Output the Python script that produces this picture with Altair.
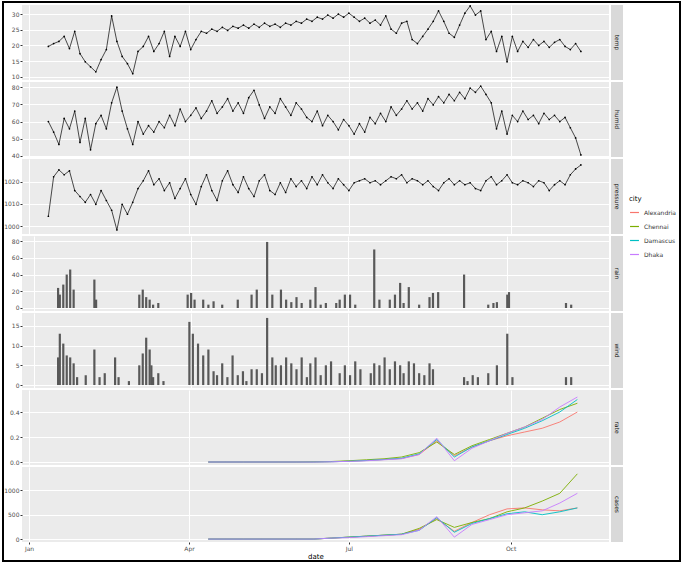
import altair as alt
import pandas as pd

# ---------------- data ----------------
line_start = "2020-01-12"          # weather series, one value every 3 days
temp = [19.7, 20.6, 21.3, 22.9, 19.0, 24.5, 17.4, 14.8, 13.2, 11.6,
        15.5, 18.7, 29.4, 21.3, 16.5, 14.2, 11.0, 18.1, 19.7, 22.9,
        18.1, 20.6, 24.5, 16.5, 22.9, 19.7, 24.5, 18.7, 21.9, 24.5,
        23.9, 25.2, 24.5, 25.8, 24.8, 26.1, 25.5, 26.5, 25.5, 26.8,
        25.8, 27.1, 26.1, 26.8, 25.8, 27.1, 26.5, 27.7, 27.1, 28.4,
        27.7, 29.0, 28.4, 29.7, 28.7, 30.0, 29.0, 30.3, 29.0, 27.7,
        28.7, 27.1, 28.1, 26.5, 29.4, 25.2, 23.9, 27.1, 27.7, 21.9,
        20.6, 22.9, 25.2, 27.7, 31.0, 27.7, 23.9, 22.6, 26.5, 30.3,
        32.6, 29.7, 31.0, 21.9, 24.5, 18.1, 22.9, 14.8, 22.9, 18.1,
        21.3, 19.4, 21.9, 20.0, 21.3, 19.4, 21.0, 21.9, 19.7, 18.7,
        20.6, 18.1]
humid = [60.0, 53.9, 46.7, 61.8, 55.8, 66.1, 47.9, 61.8, 43.6, 58.8,
         63.6, 55.8, 70.9, 80.0, 66.1, 55.8, 46.7, 60.0, 52.7, 57.6,
         53.9, 60.0, 56.4, 63.6, 57.6, 67.3, 60.0, 63.6, 67.9, 61.8,
         66.1, 72.1, 64.8, 68.5, 73.3, 66.1, 70.9, 64.8, 73.9, 78.2,
         69.7, 61.8, 68.5, 64.8, 73.3, 68.5, 63.6, 70.9, 67.3, 62.4,
         60.0, 66.1, 57.6, 63.6, 60.0, 55.2, 61.2, 57.6, 52.7, 58.8,
         53.9, 62.4, 58.8, 64.8, 60.0, 68.5, 63.6, 67.3, 72.1, 67.3,
         70.9, 66.1, 73.3, 69.7, 74.5, 70.9, 75.8, 72.1, 77.0, 73.3,
         79.4, 77.0, 80.6, 75.8, 70.9, 55.8, 66.1, 52.7, 63.6, 60.0,
         66.1, 61.2, 63.6, 58.8, 64.8, 61.2, 63.6, 60.0, 62.4, 56.4,
         50.5, 40.6]
press = [1004.4, 1022.2, 1025.3, 1023.1, 1024.9, 1016.0, 1013.3, 1010.7, 1014.2, 1009.8,
         1016.0, 1011.5, 1007.1, 998.2, 1009.8, 1005.3, 1010.7, 1016.9, 1020.4, 1024.9,
         1018.6, 1021.3, 1016.0, 1019.5, 1012.4, 1016.9, 1021.3, 1014.2, 1009.8, 1017.8,
         1023.1, 1016.0, 1011.5, 1020.4, 1024.9, 1018.6, 1015.1, 1022.2, 1016.9, 1013.3,
         1020.4, 1023.1, 1016.0, 1014.2, 1019.5, 1015.1, 1021.3, 1017.8, 1020.4, 1016.9,
         1022.2, 1018.6, 1023.1, 1019.5, 1016.9, 1021.3, 1018.6, 1016.0, 1019.5, 1020.4,
         1021.3, 1019.5, 1020.4, 1018.6, 1020.4, 1022.2, 1021.3, 1023.1, 1019.5, 1021.3,
         1020.4, 1018.6, 1020.4, 1017.8, 1016.0, 1019.5, 1021.3, 1018.6, 1020.4, 1018.6,
         1019.5, 1016.9, 1016.0, 1020.4, 1022.2, 1018.6, 1020.4, 1023.1, 1019.5, 1018.6,
         1020.4, 1019.5, 1017.8, 1020.4, 1019.5, 1016.0, 1018.6, 1020.4, 1018.6, 1023.1,
         1025.7, 1027.5]

# bar series: day of year (0 = 1 Jan 2020) and value
rain_days = [14, 15, 17, 19, 21, 23, 35, 36, 61, 63, 65, 67, 69, 72, 89, 91, 93, 98, 101, 104,
             109, 118, 126, 129, 135, 138, 143, 146, 149, 152, 155, 160, 163, 166, 169, 175, 177,
             180, 183, 186, 197, 200, 206, 209, 212, 214, 217, 223, 229, 231, 234, 249, 263, 266,
             268, 274, 275, 308, 311]
rain_vals = [24, 16, 28, 40, 46, 22, 34, 10, 16, 22, 13, 10, 4, 6, 16, 18, 10, 10, 4, 8,
             4, 10, 16, 22, 79, 16, 22, 10, 7, 13, 6, 10, 25, 4, 6, 6, 10,
             16, 16, 4, 70, 10, 10, 16, 30, 6, 25, 4, 13, 18, 19, 40, 4, 6,
             7, 16, 19, 6, 4]
wind_days = [14, 15, 17, 19, 21, 23, 25, 30, 35, 38, 41, 47, 49, 55, 61, 63, 65, 67, 68, 69,
             72, 75, 90, 92, 95, 98, 101, 104, 106, 109, 112, 115, 118, 121, 123, 126, 129, 132,
             135, 138, 140, 143, 146, 149, 152, 155, 158, 160, 163, 166, 169, 172, 177, 180, 183,
             186, 189, 195, 197, 200, 203, 206, 209, 212, 214, 217, 220, 223, 226, 229, 231, 249,
             251, 254, 257, 263, 268, 274, 277, 308, 311]
wind_vals = [7, 13, 10.5, 7.5, 7, 5.5, 2, 2.5, 9, 2, 3, 7, 2, 1, 5, 8, 12, 9, 5, 2,
             3, 1, 16, 13, 10.5, 7.5, 9, 3.5, 2.5, 5.5, 2, 7.5, 2.5, 3.5, 1, 4, 4, 3,
             17, 7, 5, 5, 7, 5.5, 4, 7, 2, 5.5, 7, 2.5, 5, 6, 3, 5, 2.5,
             6, 4, 3, 5.5, 5, 7, 4, 6, 5, 3, 6, 5.5, 3, 2.5, 5.5, 4, 2,
             1, 2.5, 2, 3, 5, 13, 2, 2, 2]

# city series, one value every 10 days from 12 Apr 2020
city_start = "2020-04-12"
cities = ["Alexandria", "Chennai", "Damascus", "Dhaka"]
city_colors = ["#F8766D", "#7CAE00", "#00BFC4", "#C77CFF"]
rate = {
    "Alexandria": [0, 0, 0, 0, 0, 0, 0, 0.002, 0.006, 0.012, 0.02, 0.028, 0.06, 0.17, 0.05, 0.12, 0.17, 0.21, 0.24, 0.27, 0.32, 0.40],
    "Chennai":    [0, 0, 0, 0, 0, 0, 0.002, 0.004, 0.01, 0.018, 0.026, 0.04, 0.075, 0.16, 0.06, 0.13, 0.18, 0.23, 0.28, 0.35, 0.42, 0.47],
    "Damascus":   [0, 0, 0, 0, 0, 0, 0, 0.002, 0.006, 0.012, 0.02, 0.03, 0.065, 0.18, 0.04, 0.12, 0.17, 0.22, 0.27, 0.33, 0.40, 0.50],
    "Dhaka":      [0, 0, 0, 0, 0, 0, 0, 0.002, 0.005, 0.01, 0.018, 0.026, 0.06, 0.19, 0.01, 0.11, 0.17, 0.23, 0.28, 0.34, 0.44, 0.52],
}
cases = {
    "Alexandria": [0, 0, 0, 0, 0, 0, 0, 20, 40, 60, 80, 100, 200, 420, 160, 340, 500, 620, 640, 600, 580, 640],
    "Chennai":    [0, 0, 0, 0, 0, 0, 0, 20, 40, 60, 80, 100, 220, 400, 240, 340, 420, 560, 640, 780, 940, 1340],
    "Damascus":   [0, 0, 0, 0, 0, 0, 0, 20, 40, 60, 80, 100, 180, 440, 140, 320, 420, 520, 560, 500, 560, 640],
    "Dhaka":      [0, 0, 0, 0, 0, 0, 0, 20, 30, 50, 70, 90, 180, 460, 40, 300, 400, 500, 540, 580, 740, 940],
}

strip_labels = ["temp", "humid", "pressure", "rain", "wind", "rate", "cases"]

# ---------------- tables ----------------
def fmt(d):
    return [x.strftime("%Y-%m-%d") for x in d]

line_dates = fmt(pd.date_range(line_start, periods=len(temp), freq="3D"))
jan1 = pd.Timestamp("2020-01-01")
df_temp = pd.DataFrame({"date": line_dates, "value": temp})
df_humid = pd.DataFrame({"date": line_dates, "value": humid})
df_press = pd.DataFrame({"date": line_dates, "value": press})
df_rain = pd.DataFrame({"date": fmt(jan1 + pd.to_timedelta(rain_days, unit="D")), "value": rain_vals})
df_wind = pd.DataFrame({"date": fmt(jan1 + pd.to_timedelta(wind_days, unit="D")), "value": wind_vals})
city_dates = fmt(pd.date_range(city_start, periods=22, freq="10D"))
df_rate = pd.DataFrame([{"date": d, "city": c, "value": v}
                        for c in cities for d, v in zip(city_dates, rate[c])])
df_cases = pd.DataFrame([{"date": d, "city": c, "value": v}
                         for c in cities for d, v in zip(city_dates, cases[c])])

# ---------------- layout ----------------
W, H = 587, 75
x_dom = [alt.DateTime(year=2019, month=12, date=28, utc=True),
         alt.DateTime(year=2020, month=11, date=26, utc=True)]
x_ticks = [alt.DateTime(year=2020, month=m, date=1, utc=True) for m in (1, 4, 7, 10)]


def xenc(bottom):
    if bottom:
        ax = alt.Axis(values=x_ticks, format="%b", title="date", labelFontSize=6,
                      titleFontSize=7, titleFontWeight="normal", tickSize=2,
                      labelPadding=1, titlePadding=1, domain=False,
                      labelColor="#4D4D4D", tickColor="#333333")
    else:
        ax = alt.Axis(values=x_ticks, labels=False, ticks=False, title=None, domain=False)
    return alt.X("date:T", scale=alt.Scale(type="utc", domain=x_dom), axis=ax)


def yenc(dom, ticks, fmt_=None):
    kw = dict(values=ticks, title=None, labelFontSize=6, tickSize=2, domain=False,
              labelColor="#4D4D4D", tickColor="#333333", minExtent=18, maxExtent=18,
              labelPadding=1)
    if fmt_:
        kw["format"] = fmt_
    return alt.Y("value:Q", scale=alt.Scale(domain=dom, nice=False, zero=False),
                 axis=alt.Axis(**kw))


def strip(label):
    d = pd.DataFrame({"label": [label]})
    r = alt.Chart(d).mark_rect(color="#D9D9D9").encode(
        x=alt.value(W + 2), x2=alt.value(W + 14), y=alt.value(0), y2=alt.value(H))
    t = alt.Chart(d).mark_text(angle=90, fontSize=6, color="#1A1A1A").encode(
        x=alt.value(W + 8), y=alt.value(H / 2), text="label:N")
    return r + t


def frame():
    # outer black border of the picture
    d = pd.DataFrame({"k": [0]})
    return alt.Chart(d).mark_rect(filled=False, stroke="black", strokeWidth=2).encode(
        x=alt.value(-19), x2=alt.value(658), y=alt.value(-3), y2=alt.value(556))


def line_panel(df, dom, ticks, label, extra=None):
    base = alt.Chart(df)
    ln = base.mark_line(color="black", strokeWidth=0.7).encode(x=xenc(False), y=yenc(dom, ticks))
    pt = base.mark_circle(color="black", size=3, opacity=1).encode(x=xenc(False), y=yenc(dom, ticks))
    layers = [ln, pt, strip(label)]
    if extra is not None:
        layers.append(extra)
    return alt.layer(*layers).properties(width=W, height=H)


def bar_panel(df, dom, ticks, label):
    b = alt.Chart(df).mark_bar(color="#595959", size=2.2).encode(
        x=xenc(False), y=yenc(dom, ticks), y2=alt.datum(0))
    return alt.layer(b, strip(label)).properties(width=W, height=H)


legend = alt.Legend(title="city", orient="none", legendX=607, legendY=190,
                    symbolType="stroke", symbolStrokeWidth=1.2, symbolSize=80,
                    labelFontSize=6, titleFontSize=7, titleFontWeight="normal",
                    labelColor="#333333", rowPadding=5)


def city_panel(df, dom, ticks, label, bottom, fmt_=None):
    ln = alt.Chart(df).mark_line(strokeWidth=0.9).encode(
        x=xenc(bottom), y=yenc(dom, ticks, fmt_),
        color=alt.Color("city:N", scale=alt.Scale(domain=cities, range=city_colors),
                        legend=legend))
    return alt.layer(ln, strip(label)).properties(width=W, height=H)


p1 = line_panel(df_temp, [9.0, 32.9], [10, 15, 20, 25, 30], strip_labels[0], frame())
p2 = line_panel(df_humid, [39.4, 83.0], [40, 50, 60, 70, 80], strip_labels[1])
p3 = line_panel(df_press, [996.4, 1030.2], [1000, 1010, 1020], strip_labels[2])
p4 = bar_panel(df_rain, [-3.6, 86.1], [0, 20, 40, 60, 80], strip_labels[3])
p5 = bar_panel(df_wind, [-0.75, 18.25], [0, 5, 10, 15], strip_labels[4])
p6 = city_panel(df_rate, [-0.024, 0.576], [0, 0.2, 0.4], strip_labels[5], False, ".1f")
p7 = city_panel(df_cases, [-60, 1480], [0, 500, 1000], strip_labels[6], True, "d")

# pressure axis without thousands separator
p3 = alt.layer(
    *[l for l in p3.layer]
).properties(width=W, height=H)

chart = alt.vconcat(p1, p2, p3, p4, p5, p6, p7, spacing=2, bounds="flush").resolve_scale(
    y="independent", color="shared"
).properties(
    padding={"left": 2, "top": 1, "right": 0, "bottom": 0},
    background="white",
).configure_view(
    fill="#EBEBEB", strokeWidth=0
).configure_axis(
    gridColor="white", gridWidth=1, labelFont="DejaVu Sans", titleFont="DejaVu Sans",
    format="d"
).configure_axisX(
    format="%b"
).configure_legend(
    labelFont="DejaVu Sans", titleFont="DejaVu Sans"
).configure_text(font="DejaVu Sans")

chart.save("out.html", embed_options={"renderer": "svg", "actions": False})
